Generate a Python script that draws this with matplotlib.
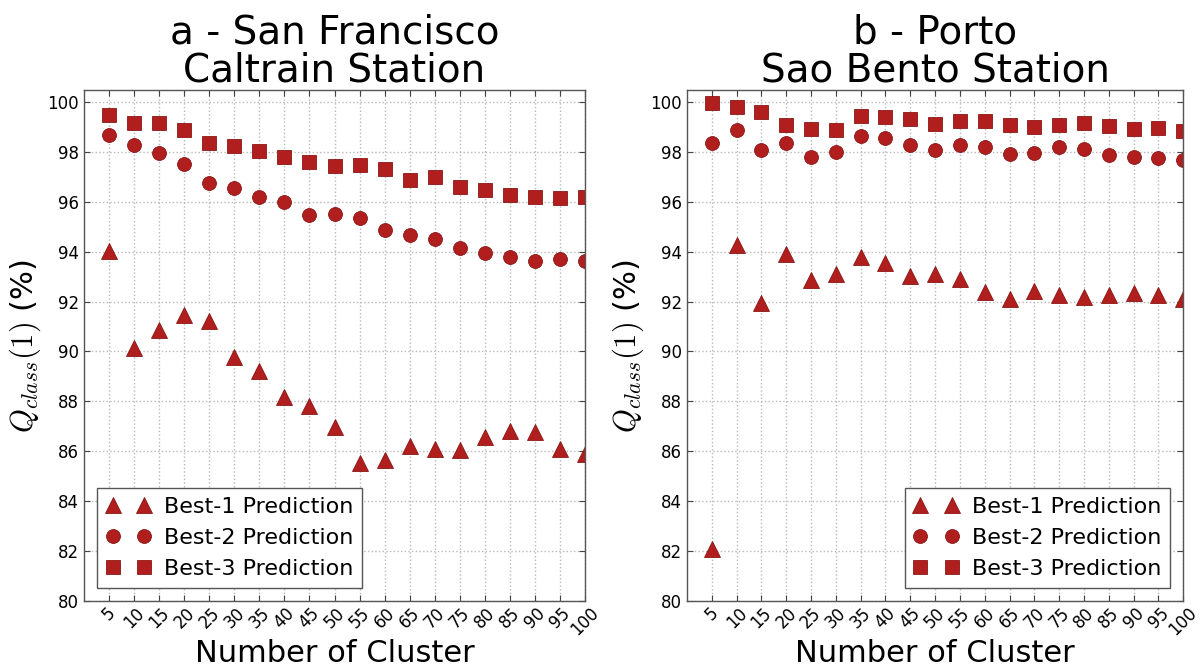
import numpy as np
import matplotlib
matplotlib.use("Agg")
import matplotlib.pyplot as plt

# ---- dane ----
clusters = [5, 10, 15, 20, 25, 30, 35, 40, 45, 50,
            55, 60, 65, 70, 75, 80, 85, 90, 95, 100]

# a - San Francisco Caltrain Station
sf_best1 = [94.02, 90.12, 90.87, 91.45, 91.23, 89.76, 89.22, 88.16, 87.83, 86.96,
            85.53, 85.67, 86.20, 86.10, 86.07, 86.57, 86.80, 86.77, 86.08, 85.88]
sf_best2 = [98.69, 98.28, 97.97, 97.53, 96.75, 96.56, 96.19, 95.98, 95.48, 95.51,
            95.33, 94.85, 94.68, 94.50, 94.16, 93.94, 93.80, 93.62, 93.70, 93.61]
sf_best3 = [99.47, 99.17, 99.14, 98.86, 98.36, 98.24, 98.03, 97.79, 97.60, 97.42,
            97.46, 97.30, 96.87, 96.98, 96.59, 96.48, 96.26, 96.18, 96.16, 96.19]

# b - Porto Sao Bento Station
porto_best1 = [82.07, 94.25, 91.95, 93.92, 92.85, 93.12, 93.80, 93.56, 93.03, 93.09,
               92.92, 92.37, 92.11, 92.42, 92.28, 92.17, 92.28, 92.33, 92.25, 92.12]
porto_best2 = [98.36, 98.89, 98.09, 98.34, 97.81, 98.00, 98.62, 98.54, 98.29, 98.09,
               98.26, 98.21, 97.93, 97.94, 98.18, 98.10, 97.87, 97.81, 97.77, 97.67]
porto_best3 = [99.96, 99.79, 99.60, 99.09, 98.90, 98.86, 99.45, 99.41, 99.32, 99.12,
               99.25, 99.24, 99.09, 99.01, 99.09, 99.14, 99.05, 98.93, 98.96, 98.82]

titles = ["a - San Francisco\nCaltrain Station", "b - Porto\nSao Bento Station"]
labels = ["Best-1 Prediction", "Best-2 Prediction", "Best-3 Prediction"]
markers = ["^", "o", "s"]

plt.rcParams["mathtext.fontset"] = "cm"

FILL = "#b01e1e"
EDGE = "#8c1616"

fig = plt.figure(figsize=(12, 6.68), dpi=100)
ax_a = fig.add_axes([0.07, 0.1003, 0.4175, 0.7647])
ax_b = fig.add_axes([0.5725, 0.1003, 0.4135, 0.7647])

panels = [
    (ax_a, [sf_best1, sf_best2, sf_best3], "lower left"),
    (ax_b, [porto_best1, porto_best2, porto_best3], "lower right"),
]

for (ax, series, loc), title in zip(panels, titles):
    for vals, m, lab in zip(series, markers, labels):
        ax.plot(clusters, vals, linestyle="none", marker=m, markersize=10 if m != "^" else 11,
                markerfacecolor=FILL, markeredgecolor=EDGE, markeredgewidth=0.6, label=lab)

    ax.set_xlim(0, 100)
    ax.set_ylim(80, 100.47)
    ax.set_xticks(clusters)
    ax.set_xticklabels([str(c) for c in clusters], rotation=45)
    ax.set_yticks(np.arange(80, 101, 2))
    ax.tick_params(direction="in", top=True, right=True, labelsize=12, length=4,
                   color="#444444")
    ax.tick_params(axis="x", pad=2)
    ax.grid(True, linestyle=":", color="#b8b8b8", linewidth=1.0)
    for sp in ax.spines.values():
        sp.set_color("#555555")
        sp.set_linewidth(1.0)

    ax.set_title(title, fontsize=28, linespacing=1.0, pad=6)
    ax.set_xlabel("Number of Cluster", fontsize=22, labelpad=0)
    ax.set_ylabel(r"$Q_{class}(1)$ (%)", fontsize=22, labelpad=3)

    leg = ax.legend(loc=loc, numpoints=2, fontsize=16, fancybox=False, framealpha=1,
                    handletextpad=0.6, borderpad=0.4, labelspacing=0.5,
                    handlelength=2.0, borderaxespad=0.6)
    leg.get_frame().set_edgecolor("#555555")
    leg.get_frame().set_linewidth(1.0)

fig.savefig("out.png", dpi=100)
